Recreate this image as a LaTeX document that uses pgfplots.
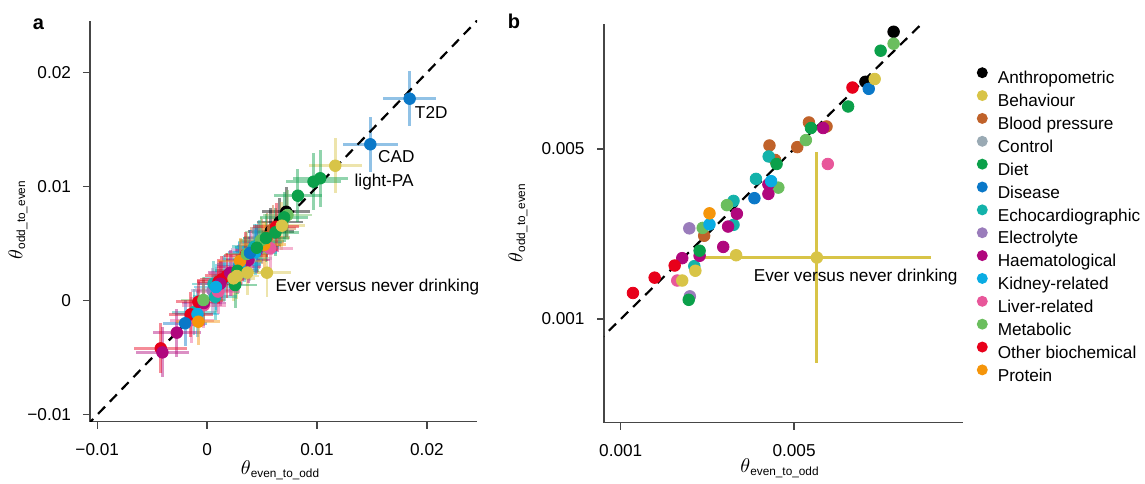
\documentclass[border=0pt]{standalone}
\usepackage{fontspec}
\setmainfont{Liberation Sans}
\usepackage{pgfplots}
\usepackage{pgfplotstable}
\pgfplotsset{compat=1.18}

\definecolor{cAnth}{HTML}{000000}
\definecolor{cBeh}{HTML}{D8C447}
\definecolor{cBP}{HTML}{C0622A}
\definecolor{cCtrl}{HTML}{9AAAB4}
\definecolor{cDiet}{HTML}{0BA04A}
\definecolor{cDis}{HTML}{0A78C8}
\definecolor{cEcho}{HTML}{13B2AA}
\definecolor{cElec}{HTML}{9A7CBB}
\definecolor{cHaem}{HTML}{B0077D}
\definecolor{cKid}{HTML}{0AACE3}
\definecolor{cLiv}{HTML}{E8579A}
\definecolor{cMet}{HTML}{6BBE5E}
\definecolor{cOth}{HTML}{E8001A}
\definecolor{cProt}{HTML}{F5950A}

% panel a: estimate and half-width of the error bars
\pgfplotstableread{
x y ex ey
0.0072 0.0078 0.0022 0.0022
0.0066 0.0069 0.0021 0.0021
0.0058 0.0061 0.0021 0.0020
}\aAnth
\pgfplotstableread{
x y ex ey
0.01166 0.01184 0.0024 0.0024
0.00544 0.00246 0.0022 0.0021
0.00367 0.00246 0.0020 0.0020
0.0027 0.00217 0.0020 0.0020
0.0024 0.00196 0.0020 0.0020
0.0068 0.00658 0.0021 0.0021
}\aBeh
\pgfplotstableread{
x y ex ey
0.00544 0.00556 0.0021 0.0021
0.0050 0.0052 0.0020 0.0020
0.0060 0.0063 0.0021 0.0021
0.0047 0.0048 0.0020 0.0020
}\aBP
\pgfplotstableread{
x y ex ey
0.00088 0.0010 0.0020 0.0020
0.0039 0.0037 0.0020 0.0020
}\aCtrl
\pgfplotstableread{
x y ex ey
0.00968 0.01044 0.0025 0.0025
0.01029 0.01074 0.0025 0.0025
0.00826 0.00921 0.0022 0.0023
0.00701 0.00731 0.0022 0.0022
0.00622 0.0060 0.0021 0.0021
0.00535 0.0055 0.0021 0.0021
0.00452 0.00465 0.0020 0.0020
0.00276 0.00263 0.0020 0.0020
0.00255 0.00138 0.0020 0.0020
}\aDiet
\pgfplotstableread{
x y ex ey
0.01843 0.01772 0.0024 0.0024
0.01485 0.01372 0.0025 0.0024
-0.0020 -0.00198 0.0020 0.0020
0.0039 0.0042 0.0020 0.0020
}\aDis
\pgfplotstableread{
x y ex ey
0.00428 0.00473 0.0020 0.0020
0.00058 0.00147 0.0020 0.0020
0.00073 0.00034 0.0020 0.0020
0.0034 0.0036 0.0020 0.0020
0.0016 0.0020 0.0020 0.0020
-0.0012 -0.0010 0.0020 0.0020
0.0048 0.0051 0.0020 0.0020
}\aEcho
\pgfplotstableread{
x y ex ey
0.0015 0.0019 0.0020 0.0020
0.0031 0.0034 0.0020 0.0020
0.0005 0.0009 0.0020 0.0020
0.0042 0.0045 0.0020 0.0020
}\aElec
\pgfplotstableread{
x y ex ey
0.00376 0.00357 0.0020 0.0020
0.00209 0.00245 0.0020 0.0020
-0.00276 -0.0028 0.0022 0.0021
-0.00407 -0.00453 0.0024 0.0022
0.0029 0.0030 0.0020 0.0020
-0.0003 -0.0002 0.0020 0.0020
0.0012 0.0015 0.0020 0.0020
0.0045 0.0044 0.0020 0.0020
}\aHaem
\pgfplotstableread{
x y ex ey
0.00437 0.00424 0.0020 0.0020
0.00294 0.00319 0.0020 0.0020
-0.00088 -0.00117 0.0020 0.0020
0.0045 0.0047 0.0020 0.0020
0.0008 0.0012 0.0020 0.0020
}\aKid
\pgfplotstableread{
x y ex ey
0.00574 0.0046 0.0021 0.0021
-0.0003 -0.0004 0.0020 0.0020
-0.0014 -0.0017 0.0020 0.0020
0.0010 0.0008 0.0020 0.0020
0.0022 0.0024 0.0020 0.0020
0.0040 0.0041 0.0020 0.0020
}\aLiv
\pgfplotstableread{
x y ex ey
0.00731 0.00752 0.0022 0.0022
-0.00034 0.00006 0.0020 0.0020
0.0036 0.0041 0.0020 0.0020
0.0049 0.0053 0.0020 0.0020
}\aMet
\pgfplotstableread{
x y ex ey
0.00628 0.00649 0.0021 0.0021
0.00134 0.00188 0.0020 0.0020
0.00104 0.00167 0.0020 0.0020
-0.0008 -0.0001 0.0020 0.0020
-0.00422 -0.00418 0.0024 0.0022
0.0018 0.0022 0.0020 0.0020
0.0035 0.0040 0.0020 0.0020
-0.0015 -0.0012 0.0020 0.0020
}\aOth
\pgfplotstableread{
x y ex ey
0.0030 0.00348 0.0020 0.0020
-0.0008 -0.00184 0.0020 0.0020
0.0052 0.0049 0.0020 0.0020
}\aProt

\pgfplotsset{
  bars/.style={draw=none, mark=none, forget plot,
    error bars/.cd, x dir=both, x explicit, y dir=both, y explicit,
    error mark=none, error bar style={draw=#1, line width=1.4bp, opacity=0.45}},
  dots/.style={only marks, mark=*, color=#1, mark size=2.9bp, forget plot,
    mark options={draw=none, fill=#1}},
  lg/.style={draw=none, fill=#1},
  frame/.style={scale only axis, axis x line=bottom, axis y line=left,
    axis line style={-, line width=0.7bp, gray!55!black},
    tick align=outside, major tick length=3.5bp,
    tick style={line width=0.7bp, gray!55!black},
    tick label style={font=\fontsize{8.6bp}{10bp}\selectfont},
    scaled ticks=false, clip mode=individual},
  diag/.style={black, line width=1.1bp, dash pattern=on 5bp off 3.5bp, forget plot},
}
\newcommand\thlab[1]{{\fontsize{9.5bp}{11bp}\selectfont$\theta$}\raisebox{-1.3bp}{\fontsize{5.9bp}{7bp}\selectfont #1}}

\begin{document}
\begin{tikzpicture}[font=\fontsize{8.6bp}{10bp}\selectfont]
\useasboundingbox (0,0) rectangle (572.5bp,242bp);

% ---------- panel a ----------
\begin{axis}[frame, at={(45bp,31.15bp)}, anchor=south west,
    width=193.5bp, height=200.5bp,
    xmin=-0.01066, xmax=0.02456, ymin=-0.01061, ymax=0.02456,
    xtick={-0.01,0,0.01,0.02}, xticklabels={−0.01,0,0.01,0.02},
    ytick={-0.01,0,0.01,0.02}, yticklabels={−0.01,0,0.01,0.02},
    xticklabel style={yshift=-3.8bp}, yticklabel style={xshift=-2.5bp}]
\addplot[bars=cAnth] table[x=x,y=y,x error=ex,y error=ey] {\aAnth};
\addplot[bars=cBeh] table[x=x,y=y,x error=ex,y error=ey] {\aBeh};
\addplot[bars=cBP] table[x=x,y=y,x error=ex,y error=ey] {\aBP};
\addplot[bars=cCtrl] table[x=x,y=y,x error=ex,y error=ey] {\aCtrl};
\addplot[bars=cDiet] table[x=x,y=y,x error=ex,y error=ey] {\aDiet};
\addplot[bars=cDis] table[x=x,y=y,x error=ex,y error=ey] {\aDis};
\addplot[bars=cEcho] table[x=x,y=y,x error=ex,y error=ey] {\aEcho};
\addplot[bars=cElec] table[x=x,y=y,x error=ex,y error=ey] {\aElec};
\addplot[bars=cHaem] table[x=x,y=y,x error=ex,y error=ey] {\aHaem};
\addplot[bars=cKid] table[x=x,y=y,x error=ex,y error=ey] {\aKid};
\addplot[bars=cLiv] table[x=x,y=y,x error=ex,y error=ey] {\aLiv};
\addplot[bars=cMet] table[x=x,y=y,x error=ex,y error=ey] {\aMet};
\addplot[bars=cOth] table[x=x,y=y,x error=ex,y error=ey] {\aOth};
\addplot[bars=cProt] table[x=x,y=y,x error=ex,y error=ey] {\aProt};
\addplot[diag] coordinates {(-0.011,-0.011) (0.025,0.025)};
\addplot[dots=cAnth] table[x=x,y=y] {\aAnth};
\addplot[dots=cBP] table[x=x,y=y] {\aBP};
\addplot[dots=cCtrl] table[x=x,y=y] {\aCtrl};
\addplot[dots=cElec] table[x=x,y=y] {\aElec};
\addplot[dots=cEcho] table[x=x,y=y] {\aEcho};
\addplot[dots=cLiv] table[x=x,y=y] {\aLiv};
\addplot[dots=cOth] table[x=x,y=y] {\aOth};
\addplot[dots=cHaem] table[x=x,y=y] {\aHaem};
\addplot[dots=cKid] table[x=x,y=y] {\aKid};
\addplot[dots=cProt] table[x=x,y=y] {\aProt};
\addplot[dots=cMet] table[x=x,y=y] {\aMet};
\addplot[dots=cDis] table[x=x,y=y] {\aDis};
\addplot[dots=cDiet] table[x=x,y=y] {\aDiet};
\addplot[dots=cBeh] table[x=x,y=y] {\aBeh};
\node[anchor=west, inner sep=0pt] at (axis cs:0.01888,0.01653) {T2D};
\node[anchor=west, inner sep=0pt] at (axis cs:0.01553,0.01263) {CAD};
\node[anchor=west, inner sep=0pt] at (axis cs:0.01339,0.01038) {light-PA};
\node[anchor=west, inner sep=0pt] at (axis cs:0.00619,0.00117) {Ever versus never drinking};
\end{axis}

% ---------- panel b ----------
\begin{axis}[frame, at={(302bp,30.65bp)}, anchor=south west,
    width=179.5bp, height=199.2bp,
    xmode=log, ymode=log,
    xmin=0.000856, xmax=0.0240, ymin=0.000375, ymax=0.01628,
    xtick={0.001,0.005}, xticklabels={0.001,0.005},
    ytick={0.001,0.005}, yticklabels={0.001,0.005},
    minor xtick={}, minor ytick={},
    xticklabel style={yshift=-3.8bp}, yticklabel style={xshift=-2.7bp},
    legend style={draw=none, fill=none, at={(1.0384,0.8923)}, anchor=north west,
      inner sep=0pt, outer sep=0pt, row sep=1.08bp, column sep=5bp,
      nodes={inner sep=0pt, text height=7bp, text depth=2bp},
      font=\fontsize{8.6bp}{10bp}\selectfont},
    legend cell align=left,
    legend image code/.code={\fill[#1] (2.75bp,3.1bp) circle (2.75bp);}]
\addplot[cBeh, line width=1.6bp, forget plot] coordinates {(0.00216,0.00179) (0.01787,0.00179)};
\addplot[cBeh, line width=1.6bp, forget plot] coordinates {(0.00618,0.00485) (0.00618,0.000657)};
\addplot[diag] coordinates {(0.0008,0.0008) (0.03,0.03)};
\addplot[dots=cAnth] coordinates {(0.0126,0.01517) (0.0097,0.00945)};
\addplot[dots=cBP] coordinates {(0.00574,0.00643) (0.00676,0.00619) (0.00515,0.00509) (0.00398,0.00517) (0.00419,0.00451) (0.00217,0.0022)};
\addplot[dots=cElec] coordinates {(0.00189,0.00236) (0.0019,0.00124)};
\addplot[dots=cEcho] coordinates {(0.00395,0.00466) (0.00351,0.00377) (0.00285,0.00306) (0.00285,0.00244) (0.00198,0.00165)};
\addplot[dots=cMet] coordinates {(0.0126,0.01355) (0.00558,0.00544) (0.00432,0.00347) (0.00268,0.00294) (0.00214,0.00237)};
\addplot[dots=cHaem] coordinates {(0.00655,0.0061) (0.00394,0.00358) (0.00394,0.00327) (0.00294,0.00271) (0.00271,0.0024) (0.00259,0.00198) (0.00208,0.00182) (0.00177,0.00178)};
\addplot[dots=cLiv] coordinates {(0.00684,0.00434) (0.00169,0.00144)};
\addplot[dots=cOth] coordinates {(0.0086,0.00895) (0.00165,0.00166) (0.00137,0.00148) (0.00112,0.00128)};
\addplot[dots=cDis] coordinates {(0.01,0.00884) (0.00346,0.00314)};
\addplot[dots=cKid] coordinates {(0.00404,0.00369) (0.00228,0.00245)};
\addplot[dots=cProt] coordinates {(0.00228,0.00272)};
\addplot[dots=cDiet] coordinates {(0.01117,0.01268) (0.00826,0.00748) (0.00585,0.0061) (0.00425,0.00434) (0.00208,0.00191) (0.00188,0.0012)};
\addplot[dots=cBeh] coordinates {(0.01057,0.0097) (0.00292,0.00183) (0.002,0.00158) (0.00177,0.00144) (0.00618,0.00179)};
\node[anchor=west, inner sep=0pt] at (axis cs:0.00343,0.001484) {Ever versus never drinking};
\addlegendimage{lg=cAnth}\addlegendentry{Anthropometric}
\addlegendimage{lg=cBeh}\addlegendentry{Behaviour}
\addlegendimage{lg=cBP}\addlegendentry{Blood pressure}
\addlegendimage{lg=cCtrl}\addlegendentry{Control}
\addlegendimage{lg=cDiet}\addlegendentry{Diet}
\addlegendimage{lg=cDis}\addlegendentry{Disease}
\addlegendimage{lg=cEcho}\addlegendentry{Echocardiographic}
\addlegendimage{lg=cElec}\addlegendentry{Electrolyte}
\addlegendimage{lg=cHaem}\addlegendentry{Haematological}
\addlegendimage{lg=cKid}\addlegendentry{Kidney-related}
\addlegendimage{lg=cLiv}\addlegendentry{Liver-related}
\addlegendimage{lg=cMet}\addlegendentry{Metabolic}
\addlegendimage{lg=cOth}\addlegendentry{Other biochemical}
\addlegendimage{lg=cProt}\addlegendentry{Protein}
\end{axis}

% axis titles and panel letters
\node at (140bp,7bp) {\thlab{even\_to\_odd}};
\node at (389.75bp,8bp) {\thlab{even\_to\_odd}};
\node[rotate=90] at (9bp,132bp) {\thlab{odd\_to\_even}};
\node[rotate=90] at (259bp,130.5bp) {\thlab{odd\_to\_even}};
\node[anchor=base, font=\bfseries\fontsize{10bp}{12bp}\selectfont] at (19.2bp,227bp) {a};
\node[anchor=base, font=\bfseries\fontsize{10bp}{12bp}\selectfont] at (257bp,227.5bp) {b};
\end{tikzpicture}
\end{document}
